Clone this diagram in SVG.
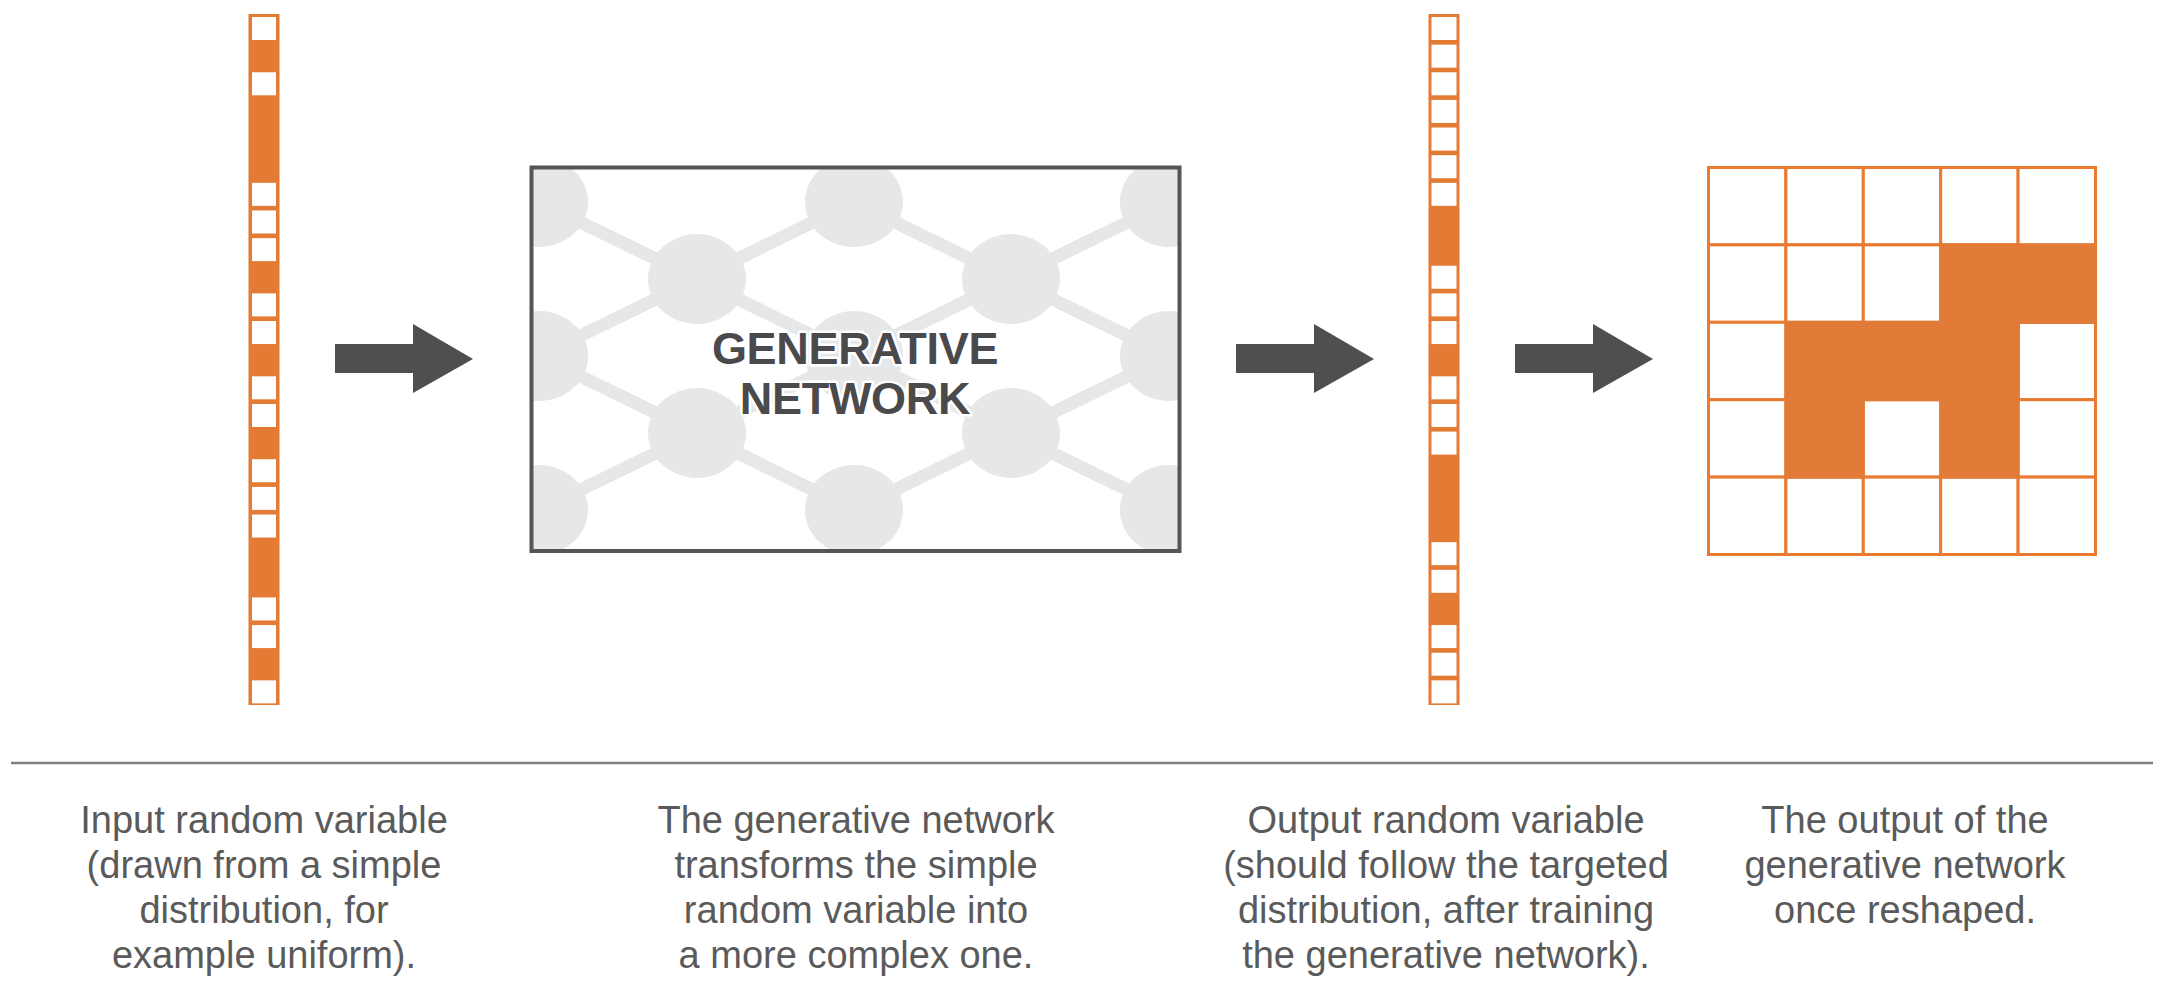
<svg xmlns="http://www.w3.org/2000/svg" width="2177" height="1000" viewBox="0 0 2177 1000">
  <style>
    .vec { fill: #E47B35; }
    .cell { fill: #FFFFFF; }
    .gcell { fill: #FFFFFF; stroke: #E97A30; stroke-width: 3; }
    .gfill { fill: #E27B37; stroke: #E27B37; stroke-width: 3; }
    .nnode { fill: #E6E7E8; }
    .nedge { stroke: #E6E7E8; stroke-width: 13; fill: none; }
    .title { font-family: "Liberation Sans", Arial, sans-serif; font-weight: bold; font-size: 45px; fill: #4A4A4C; text-anchor: middle; letter-spacing: -0.3px; stroke: #FFFFFF; stroke-width: 5; paint-order: stroke; stroke-linejoin: round; }
    .cap { font-family: "Liberation Sans", Arial, sans-serif; font-size: 38px; fill: #5A5A5A; text-anchor: middle; }
    .arrow { fill: #4F4F51; }
  </style>
  <defs>
    <clipPath id="boxclip">
      <rect x="531.5" y="167.5" width="648" height="383.5"/>
    </clipPath>
    <polygon id="arr" points="335,344 413,344 413,324 473,359 413,393 413,373 335,373"/>
  </defs>
  <rect width="2177" height="1000" fill="#FFFFFF"/>

  <!-- Input random variable vector -->
  <g id="input-vector">
    <rect class="vec" x="248.5" y="14" width="31" height="691"/>
    <g transform="translate(252,0)">
      <rect class="cell" x="0" y="17" width="24" height="23"/>
      <rect class="cell" x="0" y="72.28" width="24" height="23"/>
      <rect class="cell" x="0" y="182.84" width="24" height="23"/>
      <rect class="cell" x="0" y="210.48" width="24" height="23"/>
      <rect class="cell" x="0" y="238.12" width="24" height="23"/>
      <rect class="cell" x="0" y="293.4" width="24" height="23"/>
      <rect class="cell" x="0" y="321.04" width="24" height="23"/>
      <rect class="cell" x="0" y="376.32" width="24" height="23"/>
      <rect class="cell" x="0" y="403.96" width="24" height="23"/>
      <rect class="cell" x="0" y="459.24" width="24" height="23"/>
      <rect class="cell" x="0" y="486.88" width="24" height="23"/>
      <rect class="cell" x="0" y="514.52" width="24" height="23"/>
      <rect class="cell" x="0" y="597.44" width="24" height="23"/>
      <rect class="cell" x="0" y="625.08" width="24" height="23"/>
      <rect class="cell" x="0" y="680.36" width="24" height="23"/>
    </g>
  </g>

  <!-- Generative network -->
  <g id="generative-network">
    <g clip-path="url(#boxclip)">
      <path class="nedge" d="M539,202 L697,279 L854,202 L1011,279 L1169,202 M539,356 L697,279 L854,356 L1011,279 L1169,356 M539,356 L697,433 L854,356 L1011,433 L1169,356 M539,510 L697,433 L854,510 L1011,433 L1169,510"/>
      <ellipse class="nnode" cx="539" cy="202" rx="49" ry="45"/>
      <ellipse class="nnode" cx="854" cy="202" rx="49" ry="45"/>
      <ellipse class="nnode" cx="1169" cy="202" rx="49" ry="45"/>
      <ellipse class="nnode" cx="697" cy="279" rx="49" ry="45"/>
      <ellipse class="nnode" cx="1011" cy="279" rx="49" ry="45"/>
      <ellipse class="nnode" cx="539" cy="356" rx="49" ry="45"/>
      <ellipse class="nnode" cx="854" cy="356" rx="49" ry="45"/>
      <ellipse class="nnode" cx="1169" cy="356" rx="49" ry="45"/>
      <ellipse class="nnode" cx="697" cy="433" rx="49" ry="45"/>
      <ellipse class="nnode" cx="1011" cy="433" rx="49" ry="45"/>
      <ellipse class="nnode" cx="539" cy="510" rx="49" ry="45"/>
      <ellipse class="nnode" cx="854" cy="510" rx="49" ry="45"/>
      <ellipse class="nnode" cx="1169" cy="510" rx="49" ry="45"/>
    </g>
    <rect x="531.5" y="167.5" width="648" height="383.5" fill="none" stroke="#555557" stroke-width="4"/>
    <text class="title" x="855" y="364">GENERATIVE</text>
    <text class="title" x="855" y="414">NETWORK</text>
  </g>

  <!-- Output random variable vector -->
  <g id="output-vector">
    <rect class="vec" x="1428.5" y="14" width="31" height="691"/>
    <g transform="translate(1431.5,0)">
      <rect class="cell" x="0" y="17" width="25" height="23"/>
      <rect class="cell" x="0" y="44.64" width="25" height="23"/>
      <rect class="cell" x="0" y="72.28" width="25" height="23"/>
      <rect class="cell" x="0" y="99.92" width="25" height="23"/>
      <rect class="cell" x="0" y="127.56" width="25" height="23"/>
      <rect class="cell" x="0" y="155.2" width="25" height="23"/>
      <rect class="cell" x="0" y="182.84" width="25" height="23"/>
      <rect class="cell" x="0" y="265.76" width="25" height="23"/>
      <rect class="cell" x="0" y="293.4" width="25" height="23"/>
      <rect class="cell" x="0" y="321.04" width="25" height="23"/>
      <rect class="cell" x="0" y="376.32" width="25" height="23"/>
      <rect class="cell" x="0" y="403.96" width="25" height="23"/>
      <rect class="cell" x="0" y="431.6" width="25" height="23"/>
      <rect class="cell" x="0" y="542.16" width="25" height="23"/>
      <rect class="cell" x="0" y="569.8" width="25" height="23"/>
      <rect class="cell" x="0" y="625.08" width="25" height="23"/>
      <rect class="cell" x="0" y="652.72" width="25" height="23"/>
      <rect class="cell" x="0" y="680.36" width="25" height="23"/>
    </g>
  </g>

  <!-- Reshaped output grid -->
  <g id="output-grid">
    <g>
      <rect class="gcell" x="1708.5" y="167.5" width="77.4" height="77.4"/>
      <rect class="gcell" x="1785.9" y="167.5" width="77.4" height="77.4"/>
      <rect class="gcell" x="1863.3" y="167.5" width="77.4" height="77.4"/>
      <rect class="gcell" x="1940.7" y="167.5" width="77.4" height="77.4"/>
      <rect class="gcell" x="2018.1" y="167.5" width="77.4" height="77.4"/>
      <rect class="gcell" x="1708.5" y="244.9" width="77.4" height="77.4"/>
      <rect class="gcell" x="1785.9" y="244.9" width="77.4" height="77.4"/>
      <rect class="gcell" x="1863.3" y="244.9" width="77.4" height="77.4"/>
      <rect class="gcell" x="1708.5" y="322.3" width="77.4" height="77.4"/>
      <rect class="gcell" x="2018.1" y="322.3" width="77.4" height="77.4"/>
      <rect class="gcell" x="1708.5" y="399.7" width="77.4" height="77.4"/>
      <rect class="gcell" x="1863.3" y="399.7" width="77.4" height="77.4"/>
      <rect class="gcell" x="2018.1" y="399.7" width="77.4" height="77.4"/>
      <rect class="gcell" x="1708.5" y="477.1" width="77.4" height="77.4"/>
      <rect class="gcell" x="1785.9" y="477.1" width="77.4" height="77.4"/>
      <rect class="gcell" x="1863.3" y="477.1" width="77.4" height="77.4"/>
      <rect class="gcell" x="1940.7" y="477.1" width="77.4" height="77.4"/>
      <rect class="gcell" x="2018.1" y="477.1" width="77.4" height="77.4"/>
    </g>
    <g>
      <rect class="gfill" x="1940.7" y="244.9" width="154.8" height="77.4"/>
      <rect class="gfill" x="1785.9" y="322.3" width="232.2" height="77.4"/>
      <rect class="gfill" x="1785.9" y="399.7" width="77.4" height="77.4"/>
      <rect class="gfill" x="1940.7" y="244.9" width="77.4" height="232.2"/>
    </g>
  </g>

  <!-- Connectors -->
  <g id="connectors">
    <use href="#arr" class="arrow"/>
    <use href="#arr" class="arrow" transform="translate(901,0)"/>
    <use href="#arr" class="arrow" transform="translate(1180,0)"/>
  </g>

  <!-- Separator -->
  <line x1="11" y1="763" x2="2153" y2="763" stroke="#808080" stroke-width="2.5"/>

  <!-- Captions -->
  <g id="caption-input">
    <text class="cap" x="264" y="833">Input random variable</text>
    <text class="cap" x="264" y="878">(drawn from a simple</text>
    <text class="cap" x="264" y="923">distribution, for</text>
    <text class="cap" x="264" y="968">example uniform).</text>
  </g>
  <g id="caption-network">
    <text class="cap" x="856" y="833">The generative network</text>
    <text class="cap" x="856" y="878">transforms the simple</text>
    <text class="cap" x="856" y="923">random variable into</text>
    <text class="cap" x="856" y="968">a more complex one.</text>
  </g>
  <g id="caption-output">
    <text class="cap" x="1446" y="833">Output random variable</text>
    <text class="cap" x="1446" y="878">(should follow the targeted</text>
    <text class="cap" x="1446" y="923">distribution, after training</text>
    <text class="cap" x="1446" y="968">the generative network).</text>
  </g>
  <g id="caption-grid">
    <text class="cap" x="1905" y="833">The output of the</text>
    <text class="cap" x="1905" y="878">generative network</text>
    <text class="cap" x="1905" y="923">once reshaped.</text>
  </g>
</svg>
